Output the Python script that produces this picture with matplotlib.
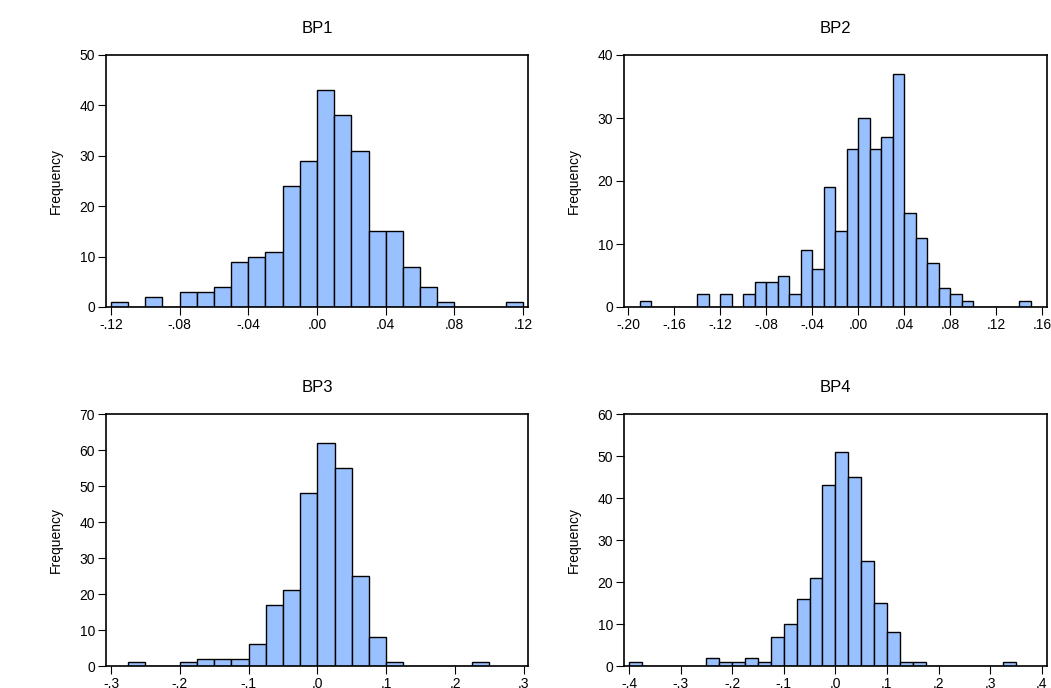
import matplotlib
matplotlib.use("Agg")
import matplotlib.pyplot as plt
import numpy as np

plt.rcParams["font.family"] = ["Liberation Sans", "DejaVu Sans"]

# counts per bin
bp1_start, bp1_width = -0.12, 0.01
bp1_counts = [1, 0, 2, 0, 3, 3, 4, 9, 10, 11, 24, 29, 43, 38, 31, 15, 15, 8, 4, 1, 0, 0, 0, 1]

bp2_start, bp2_width = -0.19, 0.01
bp2_counts = [1, 0, 0, 0, 0, 2, 0, 2, 0, 2, 4, 4, 5, 2, 9, 6, 19, 12, 25, 30, 25, 27, 37, 15,
              11, 7, 3, 2, 1, 0, 0, 0, 0, 1]

bp3_start, bp3_width = -0.275, 0.025
bp3_counts = [1, 0, 0, 1, 2, 2, 2, 6, 17, 21, 48, 62, 55, 25, 8, 1, 0, 0, 0, 0, 1]

bp4_start, bp4_width = -0.4, 0.025
bp4_counts = [1, 0, 0, 0, 0, 0, 2, 1, 1, 2, 1, 7, 10, 16, 21, 43, 51, 45, 25, 15, 8, 1, 1,
              0, 0, 0, 0, 0, 0, 1]

bp1_ticks = [-0.12, -0.08, -0.04, 0.0, 0.04, 0.08, 0.12]
bp1_labels = ["-.12", "-.08", "-.04", ".00", ".04", ".08", ".12"]
bp2_ticks = [-0.20, -0.16, -0.12, -0.08, -0.04, 0.0, 0.04, 0.08, 0.12, 0.16]
bp2_labels = ["-.20", "-.16", "-.12", "-.08", "-.04", ".00", ".04", ".08", ".12", ".16"]
bp3_ticks = [-0.3, -0.2, -0.1, 0.0, 0.1, 0.2, 0.3]
bp3_labels = ["-.3", "-.2", "-.1", ".0", ".1", ".2", ".3"]
bp4_ticks = [-0.4, -0.3, -0.2, -0.1, 0.0, 0.1, 0.2, 0.3, 0.4]
bp4_labels = ["-.4", "-.3", "-.2", "-.1", ".0", ".1", ".2", ".3", ".4"]

BAR_COLOR = "#99c0ff"

W, H = 1051, 688
fig = plt.figure(figsize=(W / 100, H / 100), dpi=100)
fig.patch.set_facecolor("white")


def add_axes(left, top, right, bottom):
    return fig.add_axes([left / W, 1 - bottom / H, (right - left) / W, (bottom - top) / H])


def draw_hist(ax, title, start, width, counts, ticks, labels, xlim, ymax):
    counts = np.asarray(counts)
    edges = start + width * np.arange(len(counts))
    ax.bar(edges, counts, width=width, align="edge", color=BAR_COLOR,
           edgecolor="black", linewidth=1.0)
    ax.set_xlim(*xlim)
    ax.set_ylim(0, ymax)
    ax.set_xticks(ticks)
    ax.set_xticklabels(labels)
    ax.set_yticks(np.arange(0, ymax + 1, 10))
    ax.tick_params(direction="out", length=6, width=0.8, labelsize=10, pad=2, colors="black")
    ax.set_title(title, fontsize=12, pad=16)
    ax.set_ylabel("Frequency", fontsize=10, labelpad=12)
    for spine in ax.spines.values():
        spine.set_linewidth(1.2)
        spine.set_color("black")


ax1 = add_axes(106, 55, 528, 307)
draw_hist(ax1, "BP1", bp1_start, bp1_width, bp1_counts, bp1_ticks, bp1_labels,
          (-0.1229, 0.1229), 50)

ax2 = add_axes(624, 55, 1047, 307)
draw_hist(ax2, "BP2", bp2_start, bp2_width, bp2_counts, bp2_ticks, bp2_labels,
          (-0.2037, 0.1641), 40)

ax3 = add_axes(106, 414, 528, 666)
draw_hist(ax3, "BP3", bp3_start, bp3_width, bp3_counts, bp3_ticks, bp3_labels,
          (-0.3073, 0.3060), 70)

ax4 = add_axes(624, 414, 1047, 666)
draw_hist(ax4, "BP4", bp4_start, bp4_width, bp4_counts, bp4_ticks, bp4_labels,
          (-0.4097, 0.4103), 60)

fig.savefig("out.png", dpi=100, facecolor=fig.get_facecolor())
